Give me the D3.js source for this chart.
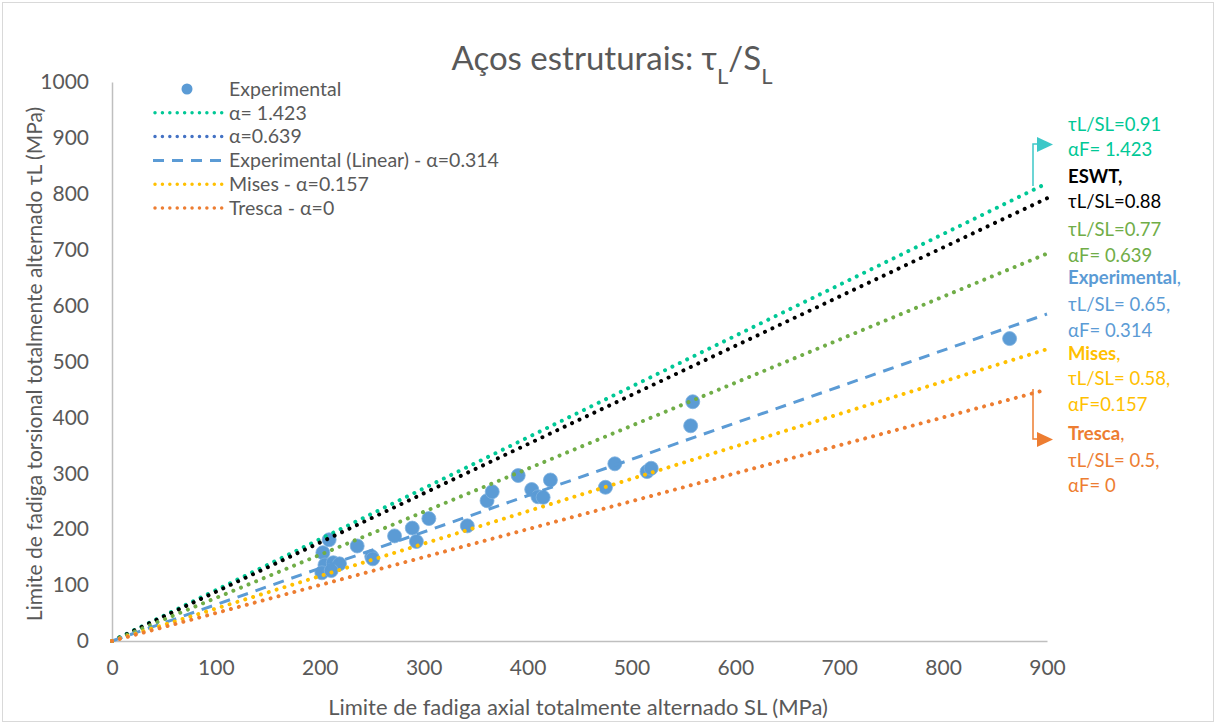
<!DOCTYPE html>
<html>
<head>
<meta charset="utf-8">
<script src="https://cdn.jsdelivr.net/npm/d3@7"></script>
<style>
  html, body { margin: 0; padding: 0; background: #fff; }
  svg { display: block; font-family: Lato, "Noto Sans", sans-serif; }
</style>
</head>
<body>
<svg id="chart" width="1216" height="722"></svg>
<script>
// Experimental fatigue limits of structural steels (MPa)
const axialSL = [209, 203, 205, 213, 219, 202, 211, 236, 250, 251, 272, 289, 293, 305, 342,
                 361, 366, 391, 404, 410, 415, 422, 475, 484, 515, 519, 557, 559, 864];
const torsionTauL = [181, 158, 136, 140, 138, 122, 126, 170, 151, 147, 188, 202, 178, 219, 206,
                     251, 267, 296, 271, 258, 257, 288, 275, 317, 303, 309, 385, 428, 541];

// Criterion lines tauL = ratio * SL
const lineNames  = ["α= 1.423", "ESWT", "α=0.639", "Experimental (Linear) - α=0.314", "Mises - α=0.157", "Tresca - α=0"];
const lineRatios = [0.91, 0.88, 0.77, 0.65, 0.58, 0.5];
const lineColors = ["#00C896", "#000000", "#70AD47", "#5B9BD5", "#FFC000", "#ED7D31"];
const lineDashed = [false, false, false, true, false, false];

const xTicks = [0, 100, 200, 300, 400, 500, 600, 700, 800, 900];
const yTicks = [0, 100, 200, 300, 400, 500, 600, 700, 800, 900, 1000];

// Legend entries (series names as listed in the legend)
const legendNames  = ["Experimental", "α= 1.423", "α=0.639", "Experimental (Linear) - α=0.314", "Mises - α=0.157", "Tresca - α=0"];
const legendColors = ["#5B9BD5", "#00C896", "#4472C4", "#5B9BD5", "#FFC000", "#ED7D31"];
const legendKinds  = ["marker", "dot", "dot", "dash", "dot", "dot"];

// Right-hand annotations: [text, bold part, colour]
const noteLines = [
  ["τL/SL=0.91", "", "#00C896"],
  ["αF= 1.423", "", "#00C896"],
  ["", "ESWT,", "#000000"],
  ["τL/SL=0.88", "", "#000000"],
  ["τL/SL=0.77", "", "#70AD47"],
  ["αF= 0.639", "", "#70AD47"],
  [",", "Experimental", "#5B9BD5"],
  ["τL/SL= 0.65,", "", "#5B9BD5"],
  ["αF= 0.314", "", "#5B9BD5"],
  [",", "Mises", "#FFC000"],
  ["τL/SL= 0.58,", "", "#FFC000"],
  ["αF=0.157", "", "#FFC000"],
  [",", "Tresca", "#ED7D31"],
  ["τL/SL= 0.5,", "", "#ED7D31"],
  ["αF= 0", "", "#ED7D31"]
];
const noteY = [125, 150, 177, 202, 230, 256, 278, 305, 331, 354, 379, 405, 434, 461, 486];

const svg = d3.select("#chart");
const W = 1216, H = 722;
const plot = { left: 112, right: 1047, top: 82, bottom: 641 };
const textGray = "#595959";

// Outer chart border
svg.append("rect")
  .attr("x", 2.5).attr("y", 2.5).attr("width", W - 5).attr("height", H - 3)
  .attr("fill", "#fff").attr("stroke", "#D9D9D9").attr("stroke-width", 1);

const x = d3.scaleLinear().domain([0, 900]).range([plot.left, plot.right]);
const y = d3.scaleLinear().domain([0, 1000]).range([plot.bottom, plot.top]);

// Axes
const xAxis = svg.append("g")
  .attr("transform", `translate(0,${plot.bottom})`)
  .call(d3.axisBottom(x).tickValues(xTicks).tickFormat(d3.format("d")).tickSize(0).tickPadding(19));
const yAxis = svg.append("g")
  .attr("transform", `translate(${plot.left},0)`)
  .call(d3.axisLeft(y).tickValues(yTicks).tickFormat(d3.format("d")).tickSize(0).tickPadding(23));
[xAxis, yAxis].forEach(g => {
  g.select(".domain").attr("stroke", "#BFBFBF").attr("stroke-width", 1.5);
  g.selectAll("text").attr("fill", textGray).style("font-size", "21px")
    .style("font-family", "Lato, 'Noto Sans', sans-serif");
});

// Experimental points
svg.append("g").selectAll("circle")
  .data(axialSL.map((s, i) => [s, torsionTauL[i]]))
  .join("circle")
  .attr("cx", d => x(d[0])).attr("cy", d => y(d[1]))
  .attr("r", 7)
  .attr("fill", "#5B9BD5")
  .attr("stroke", "#7DB1E0").attr("stroke-width", 0.8);

// Criterion lines
const line = d3.line().x(d => x(d[0])).y(d => y(d[1]));
const lg = svg.append("g");
lineRatios.forEach((r, i) => {
  const pts = [[0, 0], [900, 900 * r]];
  const p = lg.append("path")
    .attr("d", line(pts))
    .attr("fill", "none")
    .attr("stroke", lineColors[i]);
  if (lineDashed[i]) {
    p.attr("stroke-width", 3).attr("stroke-dasharray", "11 8");
  } else {
    p.attr("stroke-width", 4).attr("stroke-linecap", "round").attr("stroke-dasharray", "0.01 8.2");
  }
});

// Title with subscripts
const title = svg.append("text")
  .attr("x", 612).attr("y", 70)
  .attr("text-anchor", "middle")
  .attr("fill", textGray)
  .style("font-size", "33px");
title.append("tspan").text("Aços estruturais: τ");
title.append("tspan").attr("baseline-shift", "sub").style("font-size", "22px").text("L");
title.append("tspan").text("/S");
title.append("tspan").attr("baseline-shift", "sub").style("font-size", "22px").text("L");

// Axis titles
svg.append("text")
  .attr("x", 578).attr("y", 715)
  .attr("text-anchor", "middle").attr("fill", textGray)
  .style("font-size", "22px")
  .text("Limite de fadiga axial totalmente alternado SL (MPa)");
svg.append("text")
  .attr("transform", "translate(42,364) rotate(-90)")
  .attr("text-anchor", "middle").attr("fill", textGray)
  .style("font-size", "21px")
  .text("Limite de fadiga torsional totalmente alternado τL (MPa)");

// Legend
const leg = svg.append("g");
legendNames.forEach((name, i) => {
  const ly = 89 + i * 23.8;
  if (legendKinds[i] === "marker") {
    leg.append("circle").attr("cx", 187).attr("cy", ly).attr("r", 5.5).attr("fill", legendColors[i]);
  } else if (legendKinds[i] === "dash") {
    leg.append("line").attr("x1", 153).attr("x2", 222).attr("y1", ly).attr("y2", ly)
      .attr("stroke", legendColors[i]).attr("stroke-width", 3).attr("stroke-dasharray", "11 8");
  } else {
    leg.append("line").attr("x1", 155).attr("x2", 222).attr("y1", ly).attr("y2", ly)
      .attr("stroke", legendColors[i]).attr("stroke-width", 3.5)
      .attr("stroke-linecap", "round").attr("stroke-dasharray", "0.01 7.4");
  }
  leg.append("text")
    .attr("x", 229).attr("y", ly).attr("dy", "0.35em")
    .attr("fill", textGray).style("font-size", "19.5px")
    .text(name);
});

// Right-hand annotations
const notes = svg.append("g");
noteLines.forEach((n, i) => {
  const t = notes.append("text")
    .attr("x", 1068).attr("y", noteY[i]).attr("dy", "0.35em")
    .attr("fill", n[2]).style("font-size", "18.5px");
  if (n[1]) t.append("tspan").style("font-weight", "bold").text(n[1]);
  if (n[0]) t.append("tspan").text(n[0]);
});

// Callout arrows
const arrows = svg.append("g");
arrows.append("path")
  .attr("d", "M1033,186 V144 H1039")
  .attr("fill", "none").attr("stroke", "#3CC8C8").attr("stroke-width", 1.5);
arrows.append("path")
  .attr("d", "M1037,137 L1053,144.5 L1037,152 Z")
  .attr("fill", "#3CC8C8");
arrows.append("path")
  .attr("d", "M1033,389 V439 H1039")
  .attr("fill", "none").attr("stroke", "#ED7D31").attr("stroke-width", 1.5);
arrows.append("path")
  .attr("d", "M1037,432 L1053,439.5 L1037,447 Z")
  .attr("fill", "#ED7D31");
</script>
</body>
</html>
